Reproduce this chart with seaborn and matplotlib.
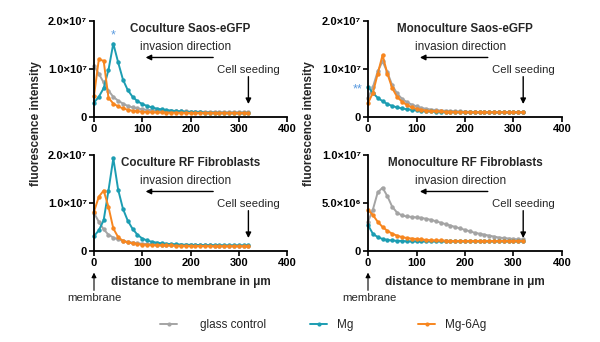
import numpy as np
import pandas as pd
import seaborn as sns
import matplotlib
matplotlib.use("Agg")
import matplotlib.pyplot as plt
from matplotlib.lines import Line2D

# ---------------- data (intensity in units of 1e6) ----------------
distance = [0, 10, 20, 30, 40, 50, 60, 70, 80, 90, 100, 110, 120, 130, 140, 150, 160,
            170, 180, 190, 200, 210, 220, 230, 240, 250, 260, 270, 280, 290, 300, 310, 320]

series_names = ["glass control", "Mg", "Mg-6Ag"]
series_colors = ["#a4a4a4", "#1c9db2", "#f7861f"]

panel_titles = ["Coculture Saos-eGFP", "Monoculture Saos-eGFP",
                "Coculture RF Fibroblasts", "Monoculture RF Fibroblasts"]

# Coculture Saos-eGFP
cs_glass = [10.7, 9.0, 7.2, 5.5, 4.2, 3.4, 2.8, 2.3, 2.0, 1.8, 1.6, 1.5, 1.4, 1.35, 1.3, 1.25, 1.2,
            1.2, 1.15, 1.15, 1.1, 1.1, 1.1, 1.05, 1.05, 1.05, 1.05, 1.0, 1.0, 1.0, 1.0, 1.0, 1.0]
cs_mg = [3.0, 4.2, 6.0, 9.8, 15.3, 11.4, 7.8, 5.6, 4.2, 3.3, 2.7, 2.3, 2.0, 1.75, 1.6, 1.45, 1.35,
         1.25, 1.15, 1.1, 1.05, 1.0, 0.95, 0.92, 0.9, 0.88, 0.85, 0.83, 0.8, 0.8, 0.78, 0.76, 0.75]
cs_mgag = [4.4, 12.0, 11.7, 4.0, 2.8, 2.2, 1.8, 1.5, 1.3, 1.2, 1.1, 1.0, 1.0, 0.95, 0.95, 0.9, 0.9,
           0.9, 0.88, 0.88, 0.85, 0.85, 0.85, 0.85, 0.85, 0.85, 0.85, 0.85, 0.85, 0.85, 0.85, 0.85, 0.85]

# Monoculture Saos-eGFP
ms_glass = [3.9, 6.2, 9.5, 11.6, 9.3, 6.6, 4.9, 3.8, 3.1, 2.6, 2.2, 1.9, 1.7, 1.55, 1.45, 1.35, 1.3,
            1.25, 1.2, 1.15, 1.1, 1.1, 1.05, 1.05, 1.0, 1.0, 1.0, 1.0, 1.0, 1.0, 1.0, 1.0, 1.0]
ms_mg = [6.3, 5.0, 4.0, 3.3, 2.7, 2.3, 2.0, 1.8, 1.6, 1.5, 1.4, 1.3, 1.2, 1.15, 1.1, 1.1, 1.05,
         1.05, 1.0, 1.0, 1.0, 1.0, 1.0, 1.0, 1.0, 1.0, 1.0, 1.0, 1.0, 1.0, 1.0, 1.0, 1.0]
ms_mgag = [2.9, 5.0, 9.0, 12.9, 9.0, 6.0, 4.2, 3.2, 2.5, 2.0, 1.7, 1.5, 1.35, 1.25, 1.2, 1.15, 1.1,
           1.1, 1.05, 1.05, 1.0, 1.0, 1.0, 1.0, 1.0, 1.0, 1.0, 1.0, 1.0, 1.0, 1.0, 1.0, 1.0]

# Coculture RF Fibroblasts
cr_glass = [7.9, 6.1, 4.5, 3.4, 2.8, 2.4, 2.1, 1.9, 1.75, 1.6, 1.5, 1.45, 1.4, 1.35, 1.3, 1.3, 1.25,
            1.25, 1.2, 1.2, 1.2, 1.15, 1.15, 1.15, 1.15, 1.1, 1.1, 1.1, 1.1, 1.1, 1.1, 1.1, 1.1]
cr_mg = [3.1, 4.3, 6.4, 12.6, 19.3, 12.8, 8.8, 6.3, 4.6, 3.4, 2.6, 2.2, 1.9, 1.75, 1.6, 1.5, 1.45,
         1.4, 1.35, 1.3, 1.3, 1.25, 1.25, 1.2, 1.2, 1.2, 1.2, 1.15, 1.15, 1.15, 1.15, 1.15, 1.15]
cr_mgag = [8.2, 11.3, 12.6, 9.2, 4.7, 2.9, 2.1, 1.8, 1.6, 1.45, 1.35, 1.3, 1.25, 1.2, 1.2, 1.15, 1.15,
           1.1, 1.1, 1.1, 1.05, 1.05, 1.05, 1.05, 1.0, 1.0, 1.0, 1.0, 1.0, 1.0, 1.0, 1.0, 1.0]

# Monoculture RF Fibroblasts
mr_glass = [3.05, 4.3, 6.1, 6.6, 5.7, 4.6, 4.0, 3.7, 3.6, 3.55, 3.5, 3.45, 3.35, 3.25, 3.1, 2.95, 2.8,
            2.65, 2.5, 2.35, 2.2, 2.05, 1.9, 1.8, 1.7, 1.6, 1.5, 1.4, 1.35, 1.3, 1.25, 1.2, 1.2]
mr_mg = [2.7, 1.8, 1.45, 1.25, 1.15, 1.1, 1.05, 1.05, 1.0, 1.0, 1.0, 1.0, 1.0, 1.0, 1.0, 1.0, 1.0,
         1.0, 1.0, 1.0, 1.0, 1.0, 1.0, 1.0, 1.0, 1.0, 1.0, 1.0, 1.0, 1.0, 1.0, 1.0, 1.0]
mr_mgag = [4.3, 3.75, 3.05, 2.5, 2.1, 1.8, 1.6, 1.45, 1.35, 1.3, 1.25, 1.2, 1.15, 1.12, 1.1, 1.1, 1.08,
           1.05, 1.05, 1.05, 1.05, 1.05, 1.05, 1.05, 1.05, 1.05, 1.05, 1.05, 1.05, 1.05, 1.05, 1.05, 1.05]

panel_data = [
    [cs_glass, cs_mg, cs_mgag],
    [ms_glass, ms_mg, ms_mgag],
    [cr_glass, cr_mg, cr_mgag],
    [mr_glass, mr_mg, mr_mgag],
]

x_ticks = [0, 100, 200, 300, 400]
y_ticks_big = [0, 10, 20]
y_labels_big = ["0", "1.0×10⁷", "2.0×10⁷"]
y_ticks_small = [0, 5, 10]
y_labels_small = ["0", "5.0×10⁶", "1.0×10⁷"]

# ---------------- styling ----------------
sns.set_style("ticks")
plt.rcParams["font.family"] = ["Liberation Sans", "DejaVu Sans"]
plt.rcParams["axes.linewidth"] = 1.3

W, H = 600, 342
fig = plt.figure(figsize=(W / 100, H / 100), dpi=100)
fig.patch.set_facecolor("white")

# pixel boxes (left, top, right, bottom)
boxes = [(94, 21, 287, 117), (368, 21, 562, 117), (94, 155, 287, 251), (368, 155, 562, 251)]

palette = dict(zip(series_names, series_colors))
axes = []
for i, (l, t, r, b) in enumerate(boxes):
    ax = fig.add_axes([l / W, 1 - b / H, (r - l) / W, (b - t) / H])
    axes.append(ax)
    rows = []
    for name, vals in zip(series_names, panel_data[i]):
        for d, v in zip(distance, vals):
            rows.append({"distance": d, "intensity": v, "series": name})
    df = pd.DataFrame(rows)
    sns.lineplot(data=df, x="distance", y="intensity", hue="series",
                 hue_order=series_names, palette=palette, marker="o",
                 markersize=3.2, markeredgewidth=0, linewidth=1.4,
                 ax=ax, legend=False)
    for ln in ax.lines:
        ln.set_clip_on(False)
    ax.set_xlim(0, 400)
    ax.set_xticks(x_ticks)
    ax.set_xticklabels([str(v) for v in x_ticks])
    if i == 3:
        ax.set_ylim(0, 10)
        ax.set_yticks(y_ticks_small)
        ax.set_yticklabels(y_labels_small)
    else:
        ax.set_ylim(0, 20)
        ax.set_yticks(y_ticks_big)
        ax.set_yticklabels(y_labels_big)
    sns.despine(ax=ax)
    for s in ("left", "bottom"):
        ax.spines[s].set_color("black")
        ax.spines[s].set_linewidth(1.3)
    ax.tick_params(direction="out", length=3.5, width=1.2, colors="black",
                   labelsize=8, pad=1.5)
    for lab in ax.get_xticklabels() + ax.get_yticklabels():
        lab.set_fontweight("bold")
    ax.set_ylabel("")
    if i >= 2:
        ax.set_xlabel("distance to membrane in μm", fontsize=8.5,
                      fontweight="bold", labelpad=6)
    else:
        ax.set_xlabel("")

    tr = ax.get_xaxis_transform()
    ax.text(200, 0.917, panel_titles[i], transform=tr, ha="center", va="center",
            fontsize=8.4, fontweight="bold")
    ax.text(190, 0.73, "invasion direction", transform=tr, ha="center",
            va="center", fontsize=8.5)
    ax.annotate("", xy=(107, 0.62), xytext=(247, 0.62), xycoords=tr,
                textcoords=tr,
                arrowprops=dict(arrowstyle="-|>", color="black", lw=1,
                                mutation_scale=8, shrinkA=0, shrinkB=0))
    ax.text(320, 0.485, "Cell seeding", transform=tr, ha="center",
            va="center", fontsize=8.2)
    ax.annotate("", xy=(320, 0.135), xytext=(320, 0.42), xycoords=tr,
                textcoords=tr,
                arrowprops=dict(arrowstyle="-|>", color="black", lw=1,
                                mutation_scale=8, shrinkA=0, shrinkB=0))
    if i >= 2:
        ax.annotate("", xy=(0, -0.225), xytext=(0, -0.41), xycoords=tr,
                    textcoords=tr, annotation_clip=False,
                    arrowprops=dict(arrowstyle="-|>", color="black", lw=0.8,
                                    mutation_scale=7, shrinkA=0, shrinkB=0))
        ax.text(2, -0.49, "membrane", transform=tr, ha="center", va="center",
                fontsize=8.2, clip_on=False)

# significance stars
axes[0].text(40, 16.9, "*", ha="center", va="center", color="#5b9be0",
             fontsize=9, clip_on=False)
axes[1].text(-21, 5.8, "**", ha="center", va="center", color="#5b9be0",
             fontsize=9, clip_on=False)

# y labels
for xpx in (36, 309):
    fig.text(xpx / W, 1 - 124 / H, "fluorescence intensity", rotation=90,
             ha="center", va="center", fontsize=8.5, fontweight="bold")

# legend: one entry per position, as in the reference
legend_spec = [(160, 1.9), (310, 0.8), (418, 0.8)]  # (handle left px, handletextpad)
for (xpx, pad), name, c in zip(legend_spec, series_names, series_colors):
    h = Line2D([], [], color=c, marker="o", markersize=3, markeredgewidth=0,
               linewidth=1.4)
    fig.legend([h], [name], loc="center left",
               bbox_to_anchor=(xpx / W, 1 - 325 / H), frameon=False,
               fontsize=8.5, handlelength=1.45, handletextpad=pad,
               borderpad=0, borderaxespad=0)

fig.savefig("out.png", dpi=100, facecolor="white")
